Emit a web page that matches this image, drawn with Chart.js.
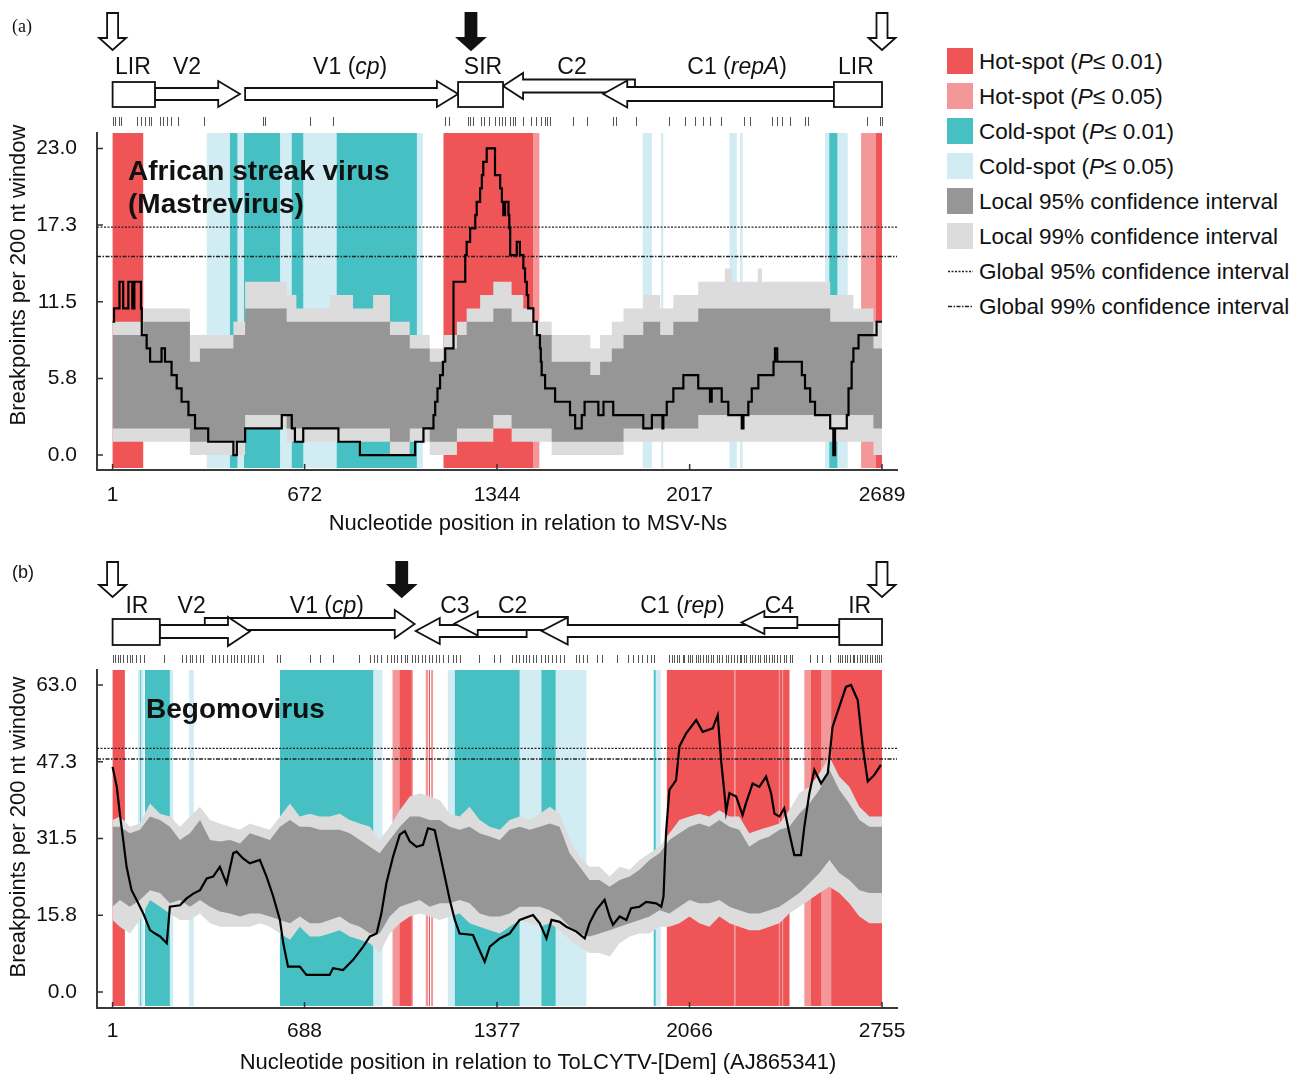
<!DOCTYPE html>
<html>
<head>
<meta charset="utf-8">
<script src="https://cdn.jsdelivr.net/npm/chart.js@4.4.1/dist/chart.umd.min.js"></script>
<style>
  html, body { margin: 0; padding: 0; background: #fff; }
  body { width: 1299px; height: 1076px; position: relative; overflow: hidden; font-family: "Liberation Sans", Arial, sans-serif; color: #111; }
  #chartA { position: absolute; left: 0; top: 0; }
  #chartB { position: absolute; left: 0; top: 540px; }
  #legend { position: absolute; left: 947px; top: 48px; }
  .item { position: relative; height: 35px; font-size: 22.5px; white-space: nowrap; }
  .sw { position: absolute; left: 0; top: 0; width: 26px; height: 26px; }
  .lab { position: absolute; left: 32px; top: 0; line-height: 27px; }
  .item svg { position: absolute; left: 0; top: 0; }
</style>
</head>
<body>
<canvas id="chartA" width="940" height="540"></canvas>
<canvas id="chartB" width="940" height="536"></canvas>
<div id="legend">
  <div class="item"><div class="sw" style="background:#ef5457"></div><div class="lab">Hot-spot (<i>P</i>&le; 0.01)</div></div>
  <div class="item"><div class="sw" style="background:#f49799"></div><div class="lab">Hot-spot (<i>P</i>&le; 0.05)</div></div>
  <div class="item"><div class="sw" style="background:#46c0c3"></div><div class="lab">Cold-spot (<i>P</i>&le; 0.01)</div></div>
  <div class="item"><div class="sw" style="background:#d2ecf3"></div><div class="lab">Cold-spot (<i>P</i>&le; 0.05)</div></div>
  <div class="item"><div class="sw" style="background:#969696"></div><div class="lab">Local 95% confidence interval</div></div>
  <div class="item"><div class="sw" style="background:#dcdcdc"></div><div class="lab">Local 99% confidence interval</div></div>
  <div class="item"><svg width="28" height="27"><line x1="1" y1="13.5" x2="26" y2="13.5" stroke="#222" stroke-width="1.3" stroke-dasharray="2,1.5"/></svg><div class="lab">Global 95% confidence interval</div></div>
  <div class="item"><svg width="28" height="27"><line x1="1" y1="13.5" x2="26" y2="13.5" stroke="#222" stroke-width="1.6" stroke-dasharray="4,1.5,1.5,1.5"/></svg><div class="lab">Global 99% confidence interval</div></div>
</div>
<script>
const FONT = '"Liberation Sans", Arial, sans-serif';

// ---- panel (a): African streak virus ----
const xTicksA = [1, 672, 1344, 2017, 2689];
const yTicksA = [0, 5.75, 11.5, 17.25, 23];
const yTickLabelsA = ['0.0', '5.8', '11.5', '17.3', '23.0'];

const lineXA = [1,6,25,38,56,70,77,100,103,120,132,172,184,207,225,242,266,289,335,423,435,464,592,627,638,667,790,865,1058,1087,1122,1128,1136,1145,1155,1163,1192,1233,1238,1250,1268,1273,1285,1291,1296,1308,1337,1355,1361,1366,1372,1384,1387,1390,1413,1424,1436,1442,1448,1453,1471,1483,1494,1497,1500,1512,1547,1599,1617,1640,1650,1698,1716,1750,1855,1885,1922,1925,1937,1960,1995,2047,2088,2094,2129,2152,2199,2205,2222,2234,2257,2310,2315,2323,2409,2420,2438,2455,2508,2519,2525,2566,2572,2583,2589,2607,2670,2689];
const lineYA = [10,11,13,11,13,11,13,11,9,8,7,8,7,6,5,4,3,2,1,0,1,2,3,2,1,2,1,0,1,2,3,4,5,6,7,8,13,15,16,17,18,19,20,21,22,23,21,20,19,18,19,18,17,15,16,15,14,13,12,11,10,9,8,7,6,5,4,3,2,3,4,3,4,3,2,3,2,3,4,5,6,5,4,5,4,3,2,3,4,5,6,7,8,7,6,5,4,3,2,0,2,3,5,7,8,9,10,10];

const ciXA    = [1,108,271,306,423,464,609,643,760,841,911,970,1039,1109,1157,1204,1238,1285,1331,1395,1436,1471,1535,1670,1704,1745,1786,1855,1914,1960,2047,2140,2165,2255,2270,2449,2508,2589,2659,2689];
const ci99UpA = [10,11,9,9,10,13,12,11,12,11,12,10,9,8,9,10,11,12,13,12,11,10,9,8,9,10,11,12,11,12,13,14,13,14,13,13,12,11,10,10];
const ci95UpA = [9,10,7,8,9,11,10,10,10,10,10,9,8,7,8,9,10,10,11,10,10,9,7,6,7,8,9,10,9,10,11,11,11,11,11,11,10,10,8,8];
const ci95LoA = [2,2,1,1,1,3,2,2,2,2,2,1,2,1,1,2,2,2,3,2,2,2,1,1,1,1,2,2,2,2,3,3,3,3,3,3,3,3,2,2];
const ci99LoA = [1,1,0,0,0,2,1,1,1,1,1,0,1,0,0,1,1,1,2,1,1,1,0,0,0,0,1,1,1,1,1,1,1,1,1,1,1,1,0,0];

const globalA = [17.1, 14.9];

const hot01A = [[1,108],[1157,1471],[2668,2689]];
const hot05A = [[1471,1492],[2616,2668]];
const cold01A = [[411,437],[460,586],[627,667],[784,1064],[2505,2533]];
const cold05A = [[330,1085],[1853,1885],[1917,1925],[2156,2182],[2193,2202],[2490,2569]];

const breakpointsA = [2,11,25,32,86,100,115,127,136,167,176,190,204,231,321,527,534,692,772,1161,1175,1243,1251,1261,1287,1297,1315,1337,1351,1360,1372,1391,1399,1408,1435,1462,1480,1498,1512,1520,1530,1609,1659,1749,1758,1829,1946,2000,2036,2063,2089,2125,2206,2229,2304,2322,2340,2367,2421,2430,2636,2681,2689];

const genesA = [['V2',149,370,446],['V1',464,1134,1208],['C2',1826,1435,1365],['C1',2521,1799,1715]];
const boxesA = [[1,149],[1208,1365],[2521,2689]];
const geneLabelsA = [['LIR',72],['V2',261],['V1 (*cp*)',831],['SIR',1295],['C2',1606],['C1 (*repA*)',2183],['LIR',2598]];
const openArrowsA = [1, 2689];
const filledArrowsA = [1253];

// ---- panel (b): Begomovirus ----
const xTicksB = [1, 688, 1377, 2066, 2755];
const yTicksB = [0, 15.75, 31.5, 47.25, 63];
const yTickLabelsB = ['0.0', '15.8', '31.5', '47.3', '63.0'];

const lineXB = [1,16,27,39,51,69,87,111,135,153,171,195,206,242,266,290,314,338,361,385,409,433,445,468,492,528,552,576,600,612,629,671,695,778,790,826,862,898,922,946,963,981,1005,1029,1047,1065,1089,1112,1130,1154,1172,1190,1208,1226,1243,1291,1309,1333,1351,1387,1422,1458,1506,1530,1554,1572,1601,1625,1661,1691,1708,1732,1762,1780,1792,1816,1840,1857,1887,1911,1947,1965,1973,1982,1994,2018,2030,2054,2090,2113,2149,2167,2179,2191,2197,2209,2233,2256,2268,2292,2316,2340,2358,2370,2388,2405,2423,2441,2465,2477,2495,2513,2537,2561,2578,2602,2626,2644,2668,2686,2704,2727,2751];
const lineYB = [46.2,42.1,36.6,31.2,25.7,20.9,18.9,16.1,12.7,12.0,11.4,10.0,17.5,17.8,19.2,20.2,20.9,23.3,23.7,25.7,22.3,28.5,28.8,27.4,26.4,27.1,23.7,19.6,14.8,10.0,5.2,5.2,3.5,3.5,4.9,4.5,6.6,9.3,11.4,12.0,16.1,22.3,27.8,32.3,33.0,30.9,29.8,30.2,33.6,33.2,28.5,23.7,18.9,14.8,12.0,11.7,9.3,6.2,9.3,11.0,12.0,14.8,15.8,14.1,11.0,14.8,14.4,13.4,12.4,11.0,14.1,16.8,18.9,15.5,13.8,15.5,14.8,17.2,17.5,18.5,18.2,17.5,19.6,32.7,41.5,43.5,50.4,53.1,55.8,53.4,54.1,56.8,47.6,40.8,37.0,40.8,40.1,36.3,38.7,42.8,42.1,44.2,40.8,36.6,36.0,37.7,32.7,28.1,28.1,33.9,40.8,45.6,42.8,44.9,54.4,58.5,62.6,63.0,59.9,50.4,43.2,44.5,46.6];

const ciXB    = [1,27,63,99,135,171,206,242,278,314,350,385,421,457,492,528,564,600,636,671,707,743,778,814,850,886,922,957,993,1029,1065,1100,1136,1172,1208,1243,1279,1315,1351,1387,1422,1458,1494,1530,1566,1601,1637,1673,1708,1744,1780,1816,1852,1887,1923,1959,1994,2030,2066,2101,2137,2173,2209,2244,2280,2316,2352,2388,2423,2459,2495,2531,2567,2602,2638,2674,2710,2755];
const ci99UpB = [35.3,36.0,33.9,34.6,38.7,36.6,36.0,33.9,36.0,38.0,35.3,34.6,33.9,33.3,34.6,33.9,33.3,36.0,38.7,36.0,36.6,36.0,36.0,36.6,35.3,34.6,33.9,31.2,33.9,37.3,40.1,40.8,40.1,39.4,36.6,36.0,38.0,35.3,33.9,33.3,35.3,36.0,35.3,36.6,38.0,36.6,31.2,27.8,25.7,25.7,23.7,25.7,25.1,27.1,28.5,29.8,32.6,35.3,36.0,36.6,36.0,37.3,36.0,36.0,32.6,33.3,33.9,34.6,37.3,40.8,42.1,44.9,48.3,44.2,42.1,38.0,36.0,36.0];
const ci95UpB = [33.9,33.9,32.6,33.3,36.0,35.3,33.9,31.2,32.6,35.3,31.2,30.9,31.2,30.5,32.6,31.9,31.2,33.9,35.3,33.9,33.9,33.3,33.3,33.3,32.6,31.2,29.8,28.5,31.2,33.9,36.0,36.0,35.3,35.3,33.9,33.3,33.9,32.6,31.9,31.2,33.3,33.9,33.3,33.9,34.6,33.9,28.5,25.7,23.0,23.0,21.6,23.0,23.7,25.1,27.1,28.5,31.2,32.6,33.9,34.6,33.9,35.3,33.9,33.3,29.8,31.2,31.9,33.3,33.9,36.6,38.7,41.5,45.6,41.5,38.7,35.3,33.9,33.9];
const ci95LoB = [17.5,18.9,17.5,18.9,20.9,20.3,18.2,18.9,17.5,18.9,17.5,16.5,16.1,15.5,16.1,16.1,15.5,14.8,14.1,15.5,14.1,14.1,14.8,15.5,14.1,13.4,12.0,12.0,15.5,17.5,18.2,18.9,17.5,18.2,18.2,18.9,18.2,16.1,15.5,15.5,16.1,17.5,17.5,17.5,16.8,15.5,13.4,12.0,11.4,12.0,12.7,13.4,14.1,14.8,15.5,16.8,16.1,17.5,18.9,18.2,18.2,18.9,17.5,16.8,16.1,16.1,16.8,17.5,18.9,20.3,22.3,24.4,27.1,24.4,23.0,20.9,20.3,20.3];
const ci99LoB = [14.8,13.4,12.0,14.8,18.9,17.5,16.1,14.8,14.8,16.1,14.1,13.4,13.4,13.4,13.4,14.1,13.4,12.0,10.7,13.4,11.4,11.4,12.0,12.7,11.4,10.7,10.0,8.0,12.0,14.1,15.5,16.1,15.5,14.8,15.5,16.1,14.1,13.4,12.7,12.0,13.4,14.8,14.1,13.4,14.1,12.7,10.7,9.3,8.0,8.0,7.3,10.0,11.4,12.0,12.0,13.4,13.4,14.1,15.5,14.1,13.4,15.5,14.1,13.4,12.7,12.7,13.4,14.1,16.1,17.5,18.9,20.3,21.6,20.3,18.2,15.5,14.1,14.1];

const globalB = [50.0, 47.8];

const hot01B = [[1,45],[1029,1071],[1133,1137],[1985,2226],[2230,2386],[2390,2397],[2401,2424],[2501,2537],[2573,2755]];
const hot05B = [[1003,1076],[1122,1130],[1141,1148],[2226,2230],[2386,2390],[2397,2401],[2477,2573]];
const cold01B = [[100,103],[117,206],[600,934],[1226,1458],[1536,1587],[1938,1945]];
const cold05B = [[92,112],[206,218],[275,292],[934,967],[1201,1226],[1458,1536],[1587,1697],[1945,1963]];

const breakpointsB = [2,11,20,29,38,51,62,70,84,99,112,185,249,264,277,286,301,314,323,356,369,381,396,411,424,436,447,460,470,484,497,506,521,539,589,602,708,745,790,882,924,937,946,961,983,998,1010,1020,1034,1047,1056,1071,1084,1093,1108,1120,1133,1144,1157,1170,1185,1203,1218,1231,1243,1313,1368,1386,1432,1445,1456,1469,1482,1493,1506,1518,1533,1548,1561,1574,1588,1603,1616,1658,1671,1684,1698,1735,1753,1808,1845,1863,1882,1896,1915,1927,1940,1992,2003,2010,2022,2030,2041,2048,2059,2068,2076,2088,2097,2103,2115,2124,2131,2142,2150,2163,2170,2182,2196,2204,2213,2224,2236,2245,2251,2262,2270,2283,2291,2299,2312,2320,2333,2341,2350,2362,2370,2379,2391,2403,2411,2424,2432,2496,2524,2542,2569,2597,2605,2612,2622,2630,2641,2650,2656,2667,2675,2683,2694,2700,2711,2720,2729,2736,2745,2751];

const genesB = [['V1',331,1011,1082],['V2',170,414,492],['C3',1483,1172,1086],['C2',1630,1308,1225],['C1',2602,1630,1537],['C4',2452,2334,2252]];
const boxesB = [[1,170],[2602,2755]];
const geneLabelsB = [['IR',88],['V2',284],['V1 (*cp*)',768],['C3',1226],['C2',1433],['C1 (*rep*)',2041],['C4',2388],['IR',2675]];
const openArrowsB = [1, 2755];
const filledArrowsB = [1036];

// ---- colours ----
const COLORS = {
    hot01: '#ef5457', hot05: '#f49799', cold01: '#46c0c3', cold05: '#d2ecf3',
    ci95: '#969696', ci99: '#dcdcdc'
};

function drawArrow(ctx, xt, xb, xp, yc, bh, hh) {
    ctx.beginPath();
    ctx.moveTo(xt, yc - bh / 2);
    ctx.lineTo(xb, yc - bh / 2);
    ctx.lineTo(xb, yc - hh / 2);
    ctx.lineTo(xp, yc);
    ctx.lineTo(xb, yc + hh / 2);
    ctx.lineTo(xb, yc + bh / 2);
    ctx.lineTo(xt, yc + bh / 2);
    ctx.closePath();
    ctx.fillStyle = '#fff';
    ctx.fill();
    ctx.stroke();
}

function drawDownArrow(ctx, cx, top, headY, tip, filled) {
    const sw = 5.5, hw = 13.5;
    ctx.beginPath();
    ctx.moveTo(cx - sw, top);
    ctx.lineTo(cx + sw, top);
    ctx.lineTo(cx + sw, headY);
    ctx.lineTo(cx + hw, headY);
    ctx.lineTo(cx, tip);
    ctx.lineTo(cx - hw, headY);
    ctx.lineTo(cx - sw, headY);
    ctx.closePath();
    ctx.fillStyle = filled ? '#111' : '#fff';
    ctx.fill();
    ctx.stroke();
}

function drawMixedLabel(ctx, text, cx, y, size) {
    const parts = text.split('*');
    const fonts = parts.map((p, i) => (i % 2 ? 'italic ' : '') + size + 'px ' + FONT);
    let total = 0;
    const widths = parts.map((p, i) => { ctx.font = fonts[i]; const w = ctx.measureText(p).width; total += w; return w; });
    let xx = cx - total / 2;
    parts.forEach((p, i) => { ctx.font = fonts[i]; ctx.fillText(p, xx, y); xx += widths[i]; });
}

function makeMapPlugin(cfg) {
    return {
        id: 'genomeMap' + cfg.id,
        beforeDatasetsDraw(chart) {
            const { ctx, chartArea: area, scales: { x } } = chart;
            ctx.save();
            const spans = [[cfg.cold05, COLORS.cold05], [cfg.cold01, COLORS.cold01], [cfg.hot05, COLORS.hot05], [cfg.hot01, COLORS.hot01]];
            spans.forEach(([list, color]) => {
                ctx.fillStyle = color;
                list.forEach(([s, e]) => {
                    const x0 = x.getPixelForValue(s), x1 = x.getPixelForValue(e);
                    ctx.fillRect(x0, area.top, x1 - x0, area.bottom - area.top - 2);
                });
            });
            ctx.restore();
        },
        afterDraw(chart) {
            const { ctx, chartArea: area, scales: { x, y } } = chart;
            const L = cfg.layout;
            ctx.save();
            ctx.strokeStyle = '#333';
            ctx.lineWidth = 1.5;
            // inward tick marks
            ctx.beginPath();
            cfg.xTicks.forEach(v => { const px = x.getPixelForValue(v); ctx.moveTo(px, area.bottom); ctx.lineTo(px, area.bottom - 6); });
            cfg.yTicks.forEach(v => { const py = y.getPixelForValue(v); ctx.moveTo(area.left, py); ctx.lineTo(area.left + 6, py); });
            ctx.stroke();

            // breakpoint positions
            ctx.strokeStyle = '#555';
            ctx.lineWidth = 1;
            ctx.beginPath();
            cfg.breakpoints.forEach(v => { const px = Math.round(x.getPixelForValue(v)) + 0.5; ctx.moveTo(px, L.bpTop); ctx.lineTo(px, L.bpBottom); });
            ctx.stroke();

            // genome map
            ctx.strokeStyle = '#111';
            ctx.lineWidth = 1.8;
            ctx.lineJoin = 'miter';
            cfg.genes.forEach((g, i) => {
                const r = L.geneRows[i];
                drawArrow(ctx, x.getPixelForValue(g[1]), x.getPixelForValue(g[2]), x.getPixelForValue(g[3]), r[0], r[1], r[2]);
            });
            cfg.boxes.forEach(([s, e]) => {
                const x0 = x.getPixelForValue(s), x1 = x.getPixelForValue(e);
                ctx.fillStyle = '#fff';
                ctx.fillRect(x0, L.boxTop, x1 - x0, L.boxBottom - L.boxTop);
                ctx.strokeRect(x0, L.boxTop, x1 - x0, L.boxBottom - L.boxTop);
            });
            cfg.openArrows.forEach(v => drawDownArrow(ctx, x.getPixelForValue(v), L.arrowTop, L.arrowHead, L.arrowTip, false));
            cfg.filledArrows.forEach(v => drawDownArrow(ctx, x.getPixelForValue(v), L.arrowTop, L.arrowHead, L.arrowTip, true));

            ctx.fillStyle = '#111';
            ctx.textAlign = 'left';
            ctx.textBaseline = 'alphabetic';
            cfg.geneLabels.forEach(([t, v]) => drawMixedLabel(ctx, t, x.getPixelForValue(v), L.labelBase, 23));

            // virus name
            ctx.font = 'bold 28px ' + FONT;
            L.names.forEach(([t, px, py]) => ctx.fillText(t, px, py));

            // panel tag
            ctx.font = L.tagFont;
            ctx.textBaseline = 'middle';
            ctx.fillText(L.tag, 12, L.tagY);

            // axis titles
            ctx.font = '22px ' + FONT;
            ctx.textAlign = 'center';
            ctx.fillText(cfg.xTitle, L.xTitleX, L.xTitleY);
            ctx.translate(19, L.yTitleY);
            ctx.rotate(-Math.PI / 2);
            ctx.fillText('Breakpoints per 200 nt window', 0, 0);
            ctx.restore();
        }
    };
}

function pts(xs, ys) {
    return xs.map((v, i) => ({ x: v, y: ys[i] }));
}

function buildChart(canvasId, cfg) {
    const el = document.getElementById(canvasId);
    const band = (ys, fill, color, order) => ({
        data: pts(cfg.ciX, ys), fill: fill, backgroundColor: color,
        borderColor: 'rgba(0,0,0,0)', borderWidth: 0, pointRadius: 0,
        stepped: cfg.stepped, order: order
    });
    const flat = (v, dash, w) => ({
        data: pts([cfg.xMin, cfg.xMax], [v, v]), fill: false,
        borderColor: '#222', borderWidth: w, borderDash: dash, pointRadius: 0, order: 2
    });
    return new Chart(el.getContext('2d'), {
        type: 'line',
        data: {
            datasets: [
                band(cfg.ci99Up, '+1', COLORS.ci99, 5),
                band(cfg.ci99Lo, false, COLORS.ci99, 5),
                band(cfg.ci95Up, '+1', COLORS.ci95, 4),
                band(cfg.ci95Lo, false, COLORS.ci95, 4),
                flat(cfg.global[0], [2, 1.5], 1.2),
                flat(cfg.global[1], [4, 1.5, 1.5, 1.5], 1.5),
                {
                    data: pts(cfg.lineX, cfg.lineY), fill: false, borderColor: '#000',
                    borderWidth: 2.2, pointRadius: 0, stepped: cfg.stepped, order: 1
                }
            ]
        },
        options: {
            responsive: false,
            devicePixelRatio: 1,
            animation: false,
            layout: { padding: { left: 0, right: 43, top: cfg.layout.padTop, bottom: 0 } },
            plugins: { legend: { display: false }, tooltip: { enabled: false } },
            scales: {
                x: {
                    type: 'linear', min: cfg.xMin, max: cfg.xMax,
                    afterBuildTicks: s => { s.ticks = cfg.xTicks.map(v => ({ value: v })); },
                    afterFit: s => { s.height = cfg.layout.xAxisH; },
                    grid: { display: false },
                    border: { display: true, color: '#3a3a3a', width: 2 },
                    ticks: {
                        autoSkip: false, maxRotation: 0, padding: cfg.layout.xTickPad, color: '#111',
                        font: { family: FONT, size: 21 }, callback: v => String(v)
                    }
                },
                y: {
                    type: 'linear', min: cfg.yMin, max: cfg.yMax,
                    afterBuildTicks: s => { s.ticks = cfg.yTicks.map(v => ({ value: v })); },
                    afterFit: s => { s.width = 97; },
                    grid: { display: false },
                    border: { display: true, color: '#3a3a3a', width: 2 },
                    ticks: {
                        autoSkip: false, padding: 12, color: '#111',
                        font: { family: FONT, size: 21 }, callback: (v, i) => cfg.yTickLabels[i]
                    }
                }
            }
        },
        plugins: [makeMapPlugin(cfg)]
    });
}

function initCharts() {
    if (typeof Chart === 'undefined') {
        console.error('Chart.js not loaded');
        return;
    }
    buildChart('chartA', {
        id: 'A', stepped: true,
        xMin: -53.5, xMax: 2741.4, yMin: -1.12, yMax: 24.16,
        xTicks: xTicksA, yTicks: yTicksA, yTickLabels: yTickLabelsA,
        lineX: lineXA, lineY: lineYA,
        ciX: ciXA, ci99Up: ci99UpA, ci95Up: ci95UpA, ci95Lo: ci95LoA, ci99Lo: ci99LoA,
        global: globalA,
        hot01: hot01A, hot05: hot05A, cold01: cold01A, cold05: cold05A,
        breakpoints: breakpointsA, genes: genesA, boxes: boxesA, geneLabels: geneLabelsA,
        openArrows: openArrowsA, filledArrows: filledArrowsA,
        xTitle: 'Nucleotide position in relation to MSV-Ns',
        layout: {
            padTop: 133, xAxisH: 70, xTickPad: 5,
            bpTop: 117, bpBottom: 126, boxTop: 82, boxBottom: 107, labelBase: 74,
            arrowTop: 13, arrowHead: 38, arrowTip: 50,
            geneRows: [[94, 12, 26], [94, 12, 26], [86, 13, 26], [94, 14, 27]],
            names: [['African streak virus', 128, 180], ['(Mastrevirus)', 128, 213]],
            tag: '(a)', tagY: 27, tagFont: '18px "Liberation Serif", serif',
            xTitleX: 528, xTitleY: 524, yTitleY: 275
        }
    });
    buildChart('chartB', {
        id: 'B', stepped: false,
        xMin: -54.8, xMax: 2808.7, yMin: -3.28, yMax: 66.08,
        xTicks: xTicksB, yTicks: yTicksB, yTickLabels: yTickLabelsB,
        lineX: lineXB, lineY: lineYB,
        ciX: ciXB, ci99Up: ci99UpB, ci95Up: ci95UpB, ci95Lo: ci95LoB, ci99Lo: ci99LoB,
        global: globalB,
        hot01: hot01B, hot05: hot05B, cold01: cold01B, cold05: cold05B,
        breakpoints: breakpointsB, genes: genesB, boxes: boxesB, geneLabels: geneLabelsB,
        openArrows: openArrowsB, filledArrows: filledArrowsB,
        xTitle: 'Nucleotide position in relation to ToLCYTV-[Dem] (AJ865341)',
        layout: {
            padTop: 130, xAxisH: 68, xTickPad: 3,
            bpTop: 115, bpBottom: 123, boxTop: 79, boxBottom: 105, labelBase: 73,
            arrowTop: 22, arrowHead: 45, arrowTip: 57,
            geneRows: [[84, 12, 28], [91.5, 13, 29], [91, 12, 26], [83.5, 13, 24], [91, 12, 27], [82.5, 11, 23]],
            names: [['Begomovirus', 146, 178]],
            tag: '(b)', tagY: 33, tagFont: '18px ' + FONT,
            xTitleX: 538, xTitleY: 523, yTitleY: 287
        }
    });
}

if (document.readyState === 'loading') {
    document.addEventListener('DOMContentLoaded', initCharts);
} else {
    initCharts();
}
</script>
</body>
</html>
